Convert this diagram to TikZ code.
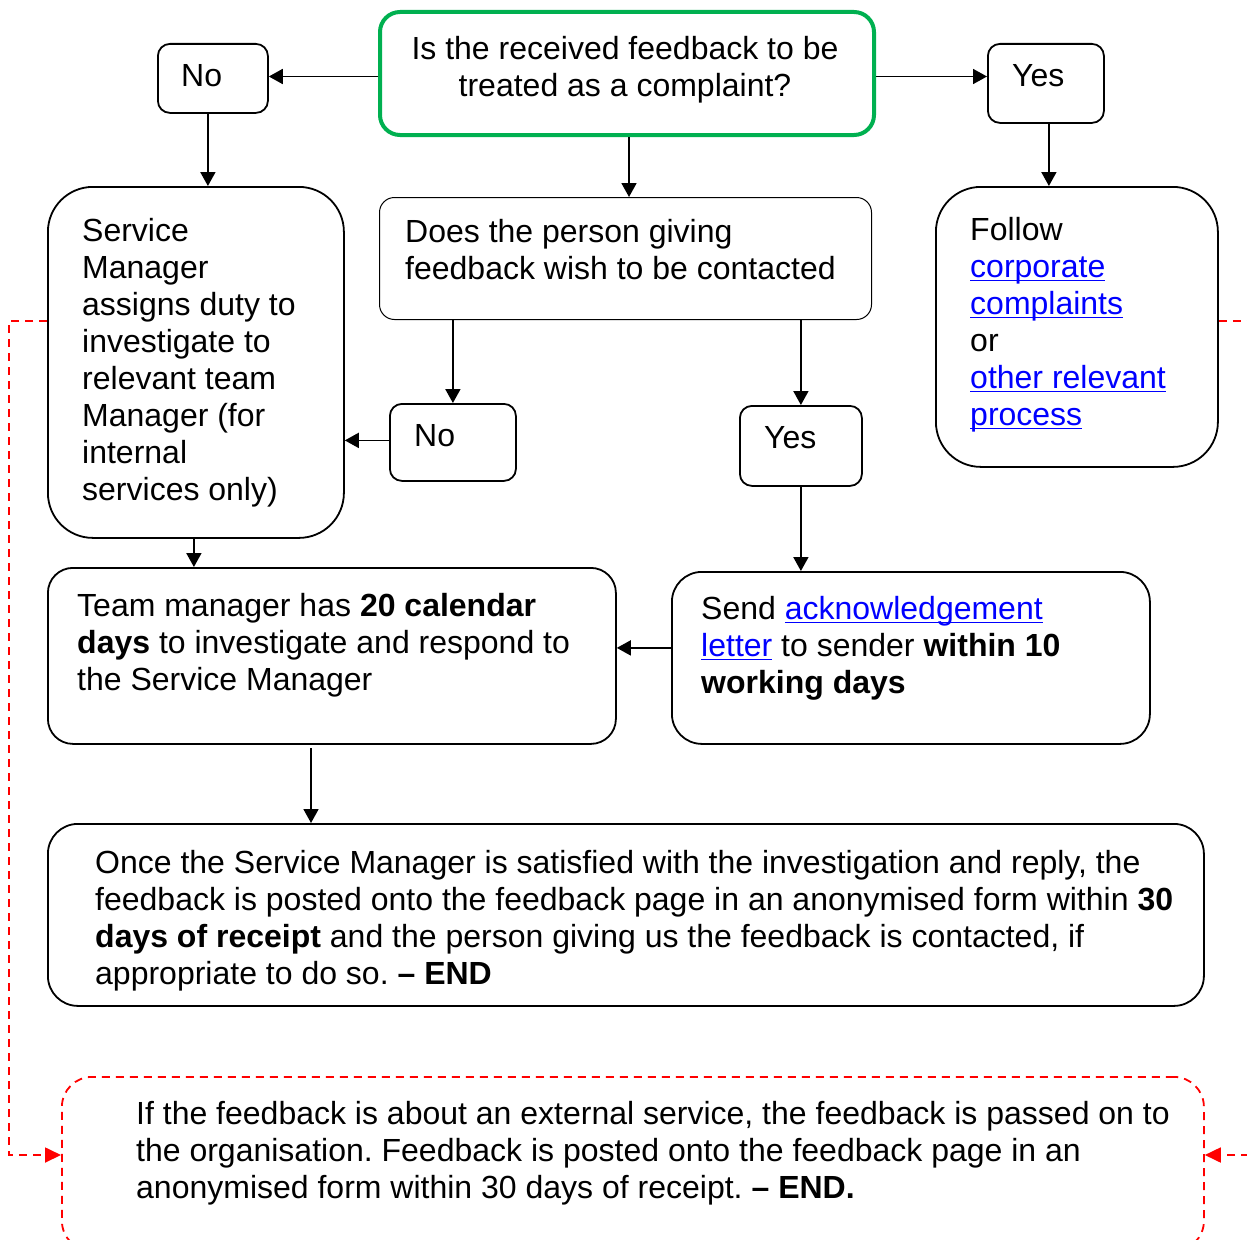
\documentclass[tikz,border=0pt]{standalone}
\usepackage{fontspec}
\setmainfont{Liberation Sans}
\usetikzlibrary{arrows.meta}
\definecolor{okgreen}{RGB}{0,176,80}
\definecolor{lnkblue}{RGB}{0,0,255}
\definecolor{dred}{RGB}{255,0,0}
\newcommand{\lnk}[1]{\textcolor{lnkblue}{\setbox0\hbox{#1}\rlap{\rule[-4pt]{\wd0}{1.8pt}}\box0}}
\frenchspacing
\begin{document}
\begin{tikzpicture}[x=1pt,y=-1pt,
  box/.style={draw, line width=1.8pt, rounded corners=#1, anchor=north west, inner sep=0pt},
  box/.default=12pt,
  txt/.style={anchor=north west, inner sep=0pt, align=left, font=\fontsize{32}{37}\selectfont},
  arr/.style={line width=1.8pt, -{Triangle[length=14pt,width=15pt]}},
  rarr/.style={draw=dred, line width=1.8pt, dash pattern=on 8pt off 6pt, -{Triangle[length=16pt,width=15pt]}}]
\useasboundingbox (0,0) rectangle (1247,1239);
\clip (0,0) rectangle (1247,1239);

% boxes
\node[box=20pt, draw=okgreen, line width=4pt, minimum width=494pt, minimum height=123pt] (green) at (378,10) {};
\node[box, minimum width=110pt, minimum height=69pt] (no1) at (157,43) {};
\node[box, minimum width=116pt, minimum height=79pt] (yes1) at (987,43) {};
\node[box=45pt, minimum width=296pt, minimum height=351pt] (sm) at (47,186) {};
\node[box=15pt, line width=1pt, minimum width=492pt, minimum height=122pt] (mid) at (379,197) {};
\node[box=45pt, minimum width=282pt, minimum height=280pt] (fol) at (935,186) {};
\node[box, minimum width=126pt, minimum height=77pt] (no2) at (389,403) {};
\node[box, minimum width=122pt, minimum height=80pt] (yes2) at (739,405) {};
\node[box=25pt, minimum width=568pt, minimum height=176pt] (tm) at (47,567) {};
\node[box=30pt, minimum width=478pt, minimum height=172pt] (send) at (671,571) {};
\node[box=30pt, minimum width=1156pt, minimum height=182pt] (once) at (47,823) {};
\node[box=30pt, draw=dred, dash pattern=on 8pt off 6pt, minimum width=1142pt, minimum height=174pt] (bot) at (61,1076) {};

% texts
\node[txt, anchor=north, align=center] (greent) at (625,36) {Is the received feedback to be\\treated as a complaint?};
\node[txt] (no1t) at (181,64) {No};
\node[txt] (yes1t) at (1012,64) {Yes};
\node[txt] (smt) at (82,218) {Service\\Manager\\assigns duty to\\investigate to\\relevant team\\Manager (for\\internal\\services only)};
\node[txt] (midt) at (405,219) {Does the person giving\\feedback wish to be contacted};
\node[txt] (folt) at (970,217) {Follow\\\lnk{corporate}\\\lnk{complaints}\\or\\\lnk{other relevant}\\\lnk{process}};
\node[txt] (no2t) at (414,424) {No};
\node[txt] (yes2t) at (764,426) {Yes};
\node[txt] (tmt) at (77,593) {Team manager has \textbf{20 calendar}\\\textbf{days} to investigate and respond to\\the Service Manager};
\node[txt] (sendt) at (701,596) {Send \lnk{acknowledgement}\\\lnk{letter} to sender \textbf{within 10}\\\textbf{working days}};
\node[txt] (oncet) at (95,850) {Once the Service Manager is satisfied with the investigation and reply, the\\feedback is posted onto the feedback page in an anonymised form within \textbf{30}\\\textbf{days of receipt} and the person giving us the feedback is contacted, if\\appropriate to do so. \textbf{-- END}};
\node[txt] (bott) at (136,1101) {If the feedback is about an external service, the feedback is passed on to\\the organisation. Feedback is posted onto the feedback page in an\\anonymised form within 30 days of receipt. \textbf{-- END.}};

% connectors
\draw[arr] ([yshift=-3pt]green.west) -- ([yshift=-3pt]green.west -| no1.east);
\draw[arr] ([yshift=-3pt]green.east) -- ([yshift=-3pt]green.east -| yes1.west);
\draw[arr] ([xshift=-5pt]no1.south) -- ([xshift=-5pt]no1.south |- sm.north);
\draw[arr] ([xshift=2pt]green.south) -- ([xshift=2pt]green.south |- mid.north);
\draw[arr] ([xshift=3pt]yes1.south) -- ([xshift=3pt]yes1.south |- fol.north);
\draw[arr] (no2.north |- mid.south) -- (no2.north);
\draw[arr] (yes2.north |- mid.south) -- (yes2.north);
\draw[arr] ([yshift=2pt]no2.west) -- ([yshift=2pt]no2.west -| sm.east);
\draw[arr] (yes2.south) -- (yes2.south |- send.north);
\draw[arr] ([xshift=-2pt]sm.south) -- ([xshift=-2pt]sm.south |- tm.north);
\draw[arr] ([yshift=10pt]send.west) -- ([yshift=10pt]send.west -| tm.east);
\coordinate (tmo) at (311,748);
\draw[arr] (tmo) -- (tmo |- once.north);

% red dashed connectors
\coordinate (lr) at (9,321);
\coordinate (lb) at (9,1155);
\coordinate (rr) at (1265,321);
\coordinate (rb) at (1265,1155);
\draw[rarr] (lr -| sm.west) -- (lr) -- (lb) -- (lb -| bot.west);
\draw[rarr] (rr -| fol.east) -- (rr) -- (rb) -- (rb -| bot.east);
\end{tikzpicture}
\end{document}
